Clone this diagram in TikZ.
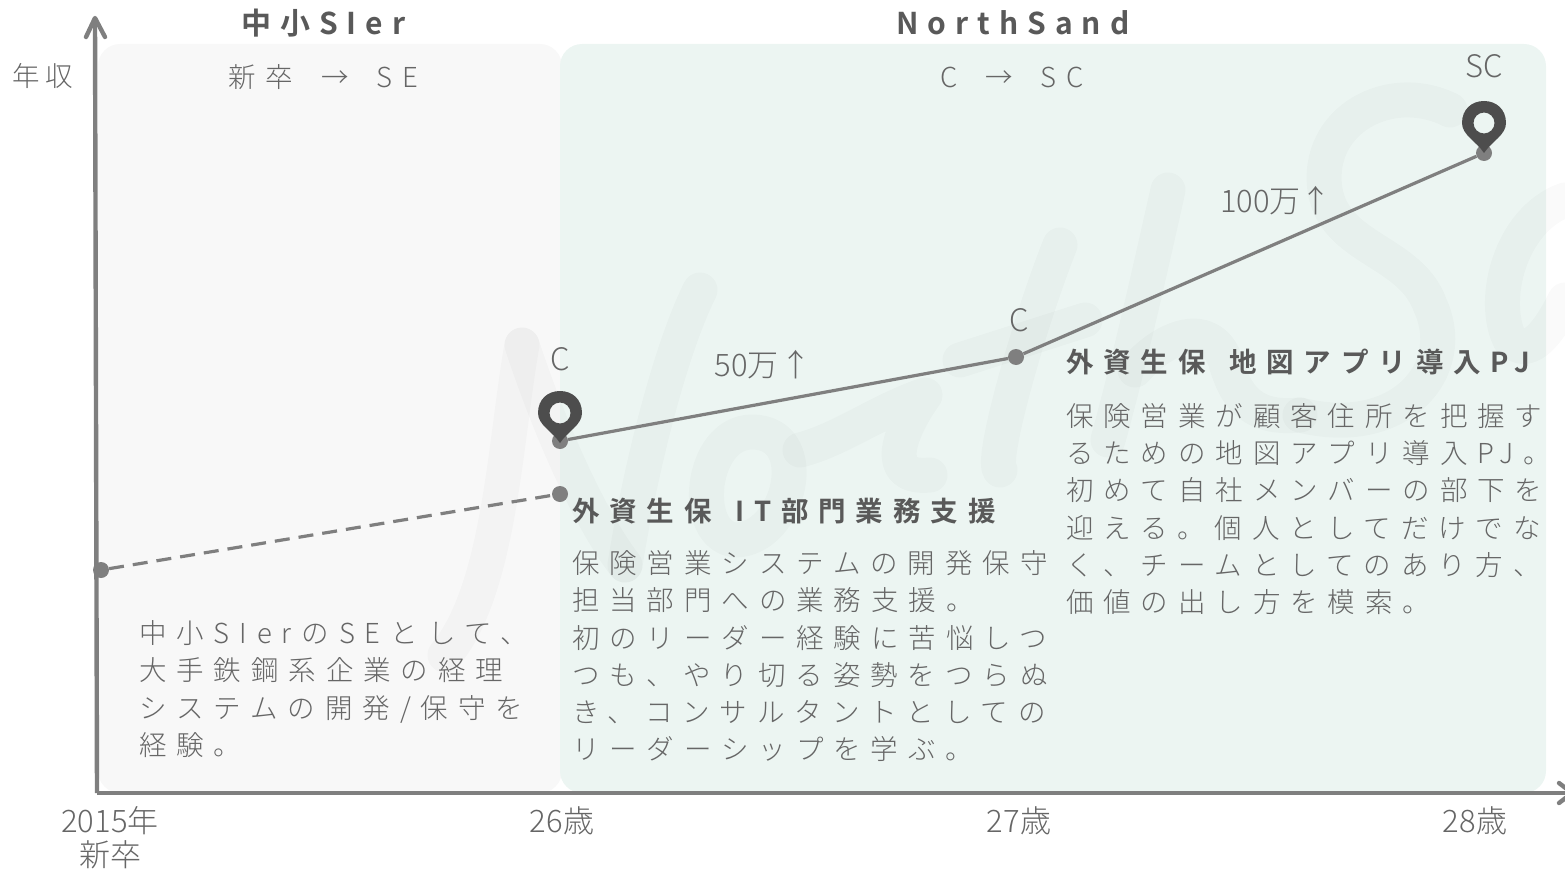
\documentclass[tikz,border=0pt]{standalone}
\usepackage{fontspec}
\setmainfont{Noto Sans CJK JP}[UprightFont=* Light,BoldFont=* Bold]
\newfontfamily\bodyf{Noto Sans CJK JP}[UprightFont=* Light,LetterSpace=36]
\newfontfamily\headf{Noto Sans CJK JP}[UprightFont=* Bold,LetterSpace=36]
\newfontfamily\titlef{Noto Sans CJK JP}[UprightFont=* Bold,LetterSpace=30]
\newfontfamily\plainf{Noto Sans CJK JP}[UprightFont=* Light]
\definecolor{axisc}{HTML}{7F7F7F}
\definecolor{txt}{HTML}{666666}
\definecolor{headc}{HTML}{595959}
\definecolor{panA}{HTML}{F8F8F8}
\definecolor{panB}{HTML}{ECF5F2}
\definecolor{pinc}{HTML}{4D4D4D}
\begin{document}
\begin{tikzpicture}[x=1pt,y=-1pt,
  body/.style={anchor=west,yshift=-1pt,inner sep=0pt,text height=23pt,text depth=4pt,text=txt,font=\fontsize{27.5}{27.5}\selectfont\bodyf},
  head/.style={anchor=west,yshift=-1pt,inner sep=0pt,text height=23pt,text depth=4pt,text=headc,font=\fontsize{27.5}{27.5}\selectfont\headf},
  titlebox/.style={anchor=west,yshift=-2pt,inner sep=0pt,text height=25pt,text depth=5pt,text=headc,font=\fontsize{30}{30}\selectfont\titlef},
  lab/.style={yshift=-1pt,inner sep=0pt,text height=26pt,text depth=5pt,text=txt,font=\fontsize{31}{31}\selectfont\plainf},
  dot/.style={circle,fill=axisc,inner sep=0pt,minimum size=16pt},
  conn/.style={draw=axisc,line width=3.2pt},
  axis/.style={draw=axisc,line width=4.4pt,line cap=butt},
  wm/.style={draw=black,draw opacity=0.02,line width=35pt,line cap=round,line join=round}]
\useasboundingbox (0,0) rectangle (1565,869);
\fill[panA,rounded corners=22pt] (98,44) rectangle (562,793);
\fill[panB,rounded corners=22pt] (560,44) rectangle (1546,793);
% watermark
\draw[wm] (522,345) .. controls (505,440) and (500,590) .. (445,655);
\draw[wm] (522,345) .. controls (550,430) and (590,520) .. (625,565);
\draw[wm] (700,290) .. controls (670,350) and (640,470) .. (625,565);
\draw[wm] (752,432) .. controls (700,432) and (690,535) .. (735,540) .. controls (790,540) and (815,432) .. (752,432);
\draw[wm] (800,450) .. controls (840,440) and (880,410) .. (925,395) .. controls (900,430) and (880,480) .. (930,475);
\draw[wm] (1060,245) .. controls (1030,320) and (990,460) .. (1000,470);
\draw[wm] (960,360) -- (1085,320);
\draw[wm] (1168,190) .. controls (1150,270) and (1130,360) .. (1108,440);
\draw[wm] (1135,370) .. controls (1165,335) and (1210,320) .. (1225,360) .. controls (1235,395) and (1250,420) .. (1300,415);
\draw[wm] (1300,415) .. controls (1400,440) and (1460,370) .. (1430,305) .. controls (1410,250) and (1335,250) .. (1325,190) .. controls (1315,120) and (1390,80) .. (1450,110);
\draw[wm] (1565,200) .. controls (1510,220) and (1490,300) .. (1510,340) .. controls (1530,360) and (1550,330) .. (1565,300);
% axes
\coordinate (o) at (97,793);
\coordinate (yend) at (95,18);
\coordinate (xend) at (1570,793);
\draw[axis] (o) -- (yend);
\draw[axis] (o) -- (xend);
\draw[axis,line cap=round,line join=round] (86,37) -- (95,18) -- (105,37);
\draw[axis,line cap=round,line join=round] (1559,783) -- (1572,793) -- (1559,803);
\node[dot] (a) at (101,570) {};
\node[dot] (b) at (560,494) {};
\node[dot] (c) at (560,441) {};
\node[dot] (d) at (1016,357) {};
\node[dot] (e) at (1484,153) {};
\draw[conn,dash pattern=on 15pt off 9pt] (a) -- (b);
\draw[conn] (c) -- (d);
\draw[conn] (d) -- (e);
\foreach \x/\y in {560/391,1484/101}{
  \begin{scope}[shift={(\x,\y)}]
  \fill[pinc,even odd rule] (0,52) .. controls (-8,40) and (-22,34) .. (-22,22)
    .. controls (-22,8) and (-12,0) .. (0,0) .. controls (12,0) and (22,8) .. (22,22)
    .. controls (22,34) and (8,40) .. (0,52) -- cycle (0,22) circle (10.5);
  \end{scope}}
\node[titlebox] (h1) at (241,23) {中小SIer};
\node[titlebox] (h2) at (896,23) {NorthSand};
\node[body] (t0) at (12,76) {年\hspace{6pt}収};
\node[body] (t1) at (228,77) {新卒\hspace{12pt} → \hspace{12pt}SE};
\node[body] (t2) at (940,77) {C\hspace{12pt} → \hspace{12pt}SC};
\node[lab] (c1) at (560,359) {C};
\node[lab] (c2) at (1019,320) {C};
\node[lab] (c3) at (1484,66) {SC};
\node[lab] (u1) at (763,365) {50万\hspace{2pt}↑};
\node[lab] (u2) at (1276,201) {100万↑};
\node[lab] (x1) at (110,821) {2015年};
\node[lab] (x1b) at (110,855) {新卒};
\node[lab] (x2) at (562,821) {26歳};
\node[lab] (x3) at (1019,821) {27歳};
\node[lab] (x4) at (1475,821) {28歳};
\node[body] (la) at (139,633) {中小SIerのSEとして、};
\node[body] (lb) at (139,670) {大手鉄鋼系企業の経理};
\node[body] (lc) at (139,708) {システムの開発/保守を};
\node[body] (ld) at (139,745) {経験。};
\node[head] (m0) at (572,511) {外資生保\hspace{7pt} IT部門業務支援};
\node[body] (ma) at (572,563) {保険営業システムの開発保守};
\node[body] (mb) at (572,600) {担当部門への業務支援。};
\node[body] (mc) at (572,638) {初のリーダー経験に苦悩しつ};
\node[body] (md) at (572,675) {つも、やり切る姿勢をつらぬ};
\node[body] (me) at (572,712) {き、コンサルタントとしての};
\node[body] (mf) at (572,749) {リーダーシップを学ぶ。};
\node[head] (r0) at (1066,362) {外資生保\hspace{7pt} 地図アプリ導入PJ};
\node[body] (ra) at (1066,416) {保険営業が顧客住所を把握す};
\node[body] (rb) at (1066,453) {るための地図アプリ導入PJ。};
\node[body] (rc) at (1066,490) {初めて自社メンバーの部下を};
\node[body] (rd) at (1066,528) {迎える。個人としてだけでな};
\node[body] (re) at (1066,565) {く、チームとしてのあり方、};
\node[body] (rf) at (1066,602) {価値の出し方を模索。};
\end{tikzpicture}
\end{document}
